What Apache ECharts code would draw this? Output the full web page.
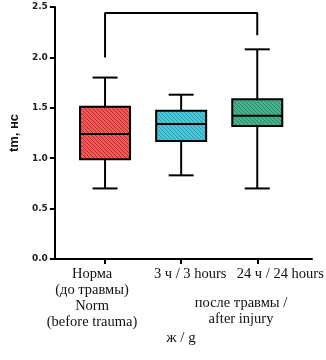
<!DOCTYPE html>
<html>
<head>
<meta charset="utf-8">
<script src="https://cdn.jsdelivr.net/npm/echarts@6/dist/echarts.min.js"></script>
<style>
html, body { margin: 0; padding: 0; background: #fff; }
#chart { width: 326px; height: 360px; }
</style>
</head>
<body>
<div id="chart"></div>
<script>
// группы и значения (min, Q1, median, Q3, max)
var categories = ['Норма\n(до травмы)\nNorm\n(before trauma)', '3 ч / 3 hours', '24 ч / 24 hours'];
var boxNorm = [0.70, 0.99, 1.24, 1.51, 1.80];
var box3h = [0.83, 1.17, 1.34, 1.47, 1.63];
var box24h = [0.70, 1.32, 1.42, 1.585, 2.08];
var bracket = [[0, 2.0], [0, 2.44], [2, 2.44], [2, 2.22]];

// штриховка для заливки коробок
function hatch (base, line) {
	var c = document.createElement('canvas');
	c.width = 4; c.height = 4;
	var ctx = c.getContext('2d');
	ctx.fillStyle = base;
	ctx.fillRect(0, 0, 4, 4);
	ctx.strokeStyle = line;
	ctx.lineWidth = 1;
	ctx.beginPath();
	ctx.moveTo(0, 0); ctx.lineTo(4, 4);
	ctx.moveTo(-2, 2); ctx.lineTo(2, 6);
	ctx.moveTo(2, -2); ctx.lineTo(6, 2);
	ctx.stroke();
	return {image: c, repeat: 'repeat'};
}

var fills = [hatch('#ec5a5a', '#c42a2a'), hatch('#4cc6d6', '#2a9cb4'), hatch('#48b08e', '#2a8a6c')];
var boxes = [boxNorm, box3h, box24h];

function renderBox (params, api) {
	var i = api.value(0);
	var lo = api.coord([i, api.value(1)]);
	var q1 = api.coord([i, api.value(2)]);
	var med = api.coord([i, api.value(3)]);
	var q3 = api.coord([i, api.value(4)]);
	var hi = api.coord([i, api.value(5)]);
	var x = lo[0], hw = 25, cw = 12.5;
	var ls = {stroke: '#000', lineWidth: 2};
	return {
		type: 'group',
		children: [
			{type: 'line', shape: {x1: x, y1: hi[1], x2: x, y2: q3[1]}, style: ls},
			{type: 'line', shape: {x1: x, y1: q1[1], x2: x, y2: lo[1]}, style: ls},
			{type: 'line', shape: {x1: x - cw, y1: hi[1], x2: x + cw, y2: hi[1]}, style: ls},
			{type: 'line', shape: {x1: x - cw, y1: lo[1], x2: x + cw, y2: lo[1]}, style: ls},
			{type: 'rect', shape: {x: x - hw, y: q3[1], width: 2 * hw, height: q1[1] - q3[1]},
				style: {fill: fills[i], stroke: '#000', lineWidth: 2}},
			{type: 'line', shape: {x1: x - hw, y1: med[1], x2: x + hw, y2: med[1]}, style: ls}
		]
	};
}

// подписи категорий немного смещены относительно засечек
var serif = {fontFamily: 'Liberation Serif', fontSize: 14.5, lineHeight: 16, color: '#111'};
var labelRich = {
	c0: Object.assign({padding: [0, 26, 0, 0]}, serif),
	c1: Object.assign({padding: [0, 0, 0, 18]}, serif),
	c2: Object.assign({padding: [0, 0, 0, 46]}, serif)
};

var chart = echarts.init(document.getElementById('chart'));
chart.setOption({
	animation: false,
	grid: [
		{left: 53, right: 14, top: 7, bottom: 101},
		{left: 67, right: 26, top: 7, bottom: 101}
	],
	xAxis: [{
		gridIndex: 0, type: 'value', min: 0, max: 1,
		axisLine: {show: true, lineStyle: {color: '#000', width: 2}},
		axisTick: {show: false}, axisLabel: {show: false}, splitLine: {show: false}
	}, {
		gridIndex: 1, type: 'category', data: categories,
		axisLine: {show: false},
		axisTick: {show: true, alignWithLabel: true, length: 5, lineStyle: {color: '#000', width: 2}},
		axisLabel: {
			interval: 0, margin: 7, align: 'center', verticalAlign: 'top',
			formatter: function (v, i) {
				return v.split('\n').map(function (s) { return '{c' + i + '|' + s + '}'; }).join('\n');
			},
			rich: labelRich
		}
	}],
	yAxis: [{
		gridIndex: 0, type: 'value', min: 0, max: 2.5, interval: 0.5,
		name: 'tm, нс', nameLocation: 'middle', nameGap: 30, nameRotate: 90,
		nameTextStyle: {fontFamily: 'Liberation Sans', fontWeight: 'bold', fontSize: 13, color: '#111'},
		axisLine: {show: true, lineStyle: {color: '#000', width: 2}},
		axisTick: {show: true, length: 5, lineStyle: {color: '#000', width: 2}},
		axisLabel: {
			margin: 7, color: '#222', fontFamily: 'DejaVu Sans', fontWeight: 'bold', fontSize: 9,
			formatter: function (v) { return v.toFixed(1); }
		},
		splitLine: {show: false}
	}, {
		gridIndex: 1, type: 'value', min: 0, max: 2.5, interval: 0.5, show: false
	}],
	series: [{
		type: 'custom',
		xAxisIndex: 1, yAxisIndex: 1,
		renderItem: renderBox,
		encode: {x: 0, y: [1, 2, 3, 4, 5]},
		data: boxes.map(function (b, i) { return [i].concat(b); })
	}, {
		type: 'line',
		xAxisIndex: 1, yAxisIndex: 1,
		data: bracket,
		symbol: 'none',
		lineStyle: {color: '#000', width: 2}
	}],
	graphic: [{
		type: 'text', x: 241, y: 295,
		style: {
			text: 'после травмы /\nafter injury', align: 'center',
			font: '14.5px "Liberation Serif"', lineHeight: 16, fill: '#111'
		}
	}, {
		type: 'text', x: 181, y: 331,
		style: {
			text: 'ж / g', align: 'center',
			font: '15px "Liberation Serif"', fill: '#111'
		}
	}]
});
</script>
</body>
</html>
